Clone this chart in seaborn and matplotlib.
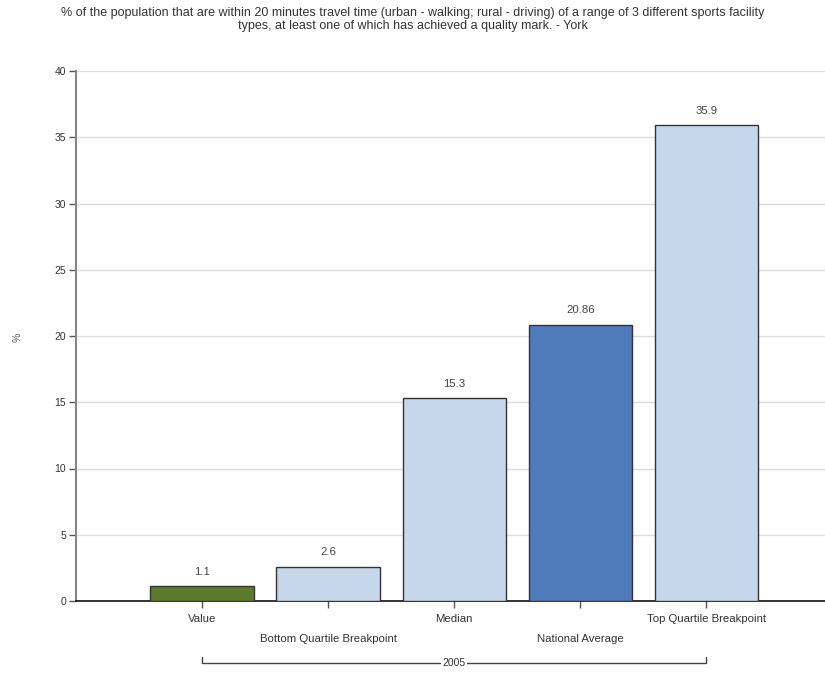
import matplotlib
matplotlib.use("Agg")
import matplotlib.pyplot as plt
import matplotlib.transforms as mtransforms
import seaborn as sns
import pandas as pd

categories = ["Value", "Bottom Quartile Breakpoint", "Median", "National Average", "Top Quartile Breakpoint"]
values = [1.1, 2.6, 15.3, 20.86, 35.9]
value_labels = ["1.1", "2.6", "15.3", "20.86", "35.9"]
bar_colors = ["#5b7b2b", "#c7d7eb", "#c7d7eb", "#4f7bba", "#c7d7eb"]
yticks = [0, 5, 10, 15, 20, 25, 30, 35, 40]
group_label = "2005"
title = ("% of the population that are within 20 minutes travel time (urban - walking; rural - driving) of a range of 3 different sports facility\n"
         "types, at least one of which has achieved a quality mark. - York")

sns.set_theme(style="white")
plt.rcParams['font.family'] = ['Liberation Sans', 'DejaVu Sans']

df = pd.DataFrame({"cat": categories, "val": values})

fig = plt.figure(figsize=(8.25, 6.73), dpi=100)
ax = fig.add_axes([76/825, 1-601/673, 1-76/825, (601-71)/673])

sns.barplot(data=df, x="cat", y="val", hue="cat", palette=bar_colors, legend=False,
            saturation=1, width=0.82, edgecolor="#333333", linewidth=1.0, ax=ax, zorder=3)

ax.set_xlim(-1.0, 4.94)
ax.set_ylim(0, 40)
ax.set_yticks(yticks)
ax.set_yticklabels([str(t) for t in yticks], fontsize=7.5, color="#333333")
ax.yaxis.grid(True, color="#dddddd", linewidth=1.0, zorder=0)
ax.xaxis.grid(False)

ticklabels = [c if i % 2 == 0 else "\n\n" + c for i, c in enumerate(categories)]
ax.set_xticks(range(len(categories)))
ax.set_xticklabels(ticklabels, fontsize=8.2, color="#333333", linespacing=1.0)
ax.tick_params(axis="x", bottom=True, length=5, width=1, color="#555555", pad=4)
ax.tick_params(axis="y", left=True, length=5, width=1, color="#555555", pad=2)
ax.set_xlabel("")
ax.set_ylabel("")

for s in ["top", "right"]:
    ax.spines[s].set_visible(False)
ax.spines["left"].set_color("#888888")
ax.spines["left"].set_linewidth(1.5)
ax.spines["bottom"].set_color("#111111")
ax.spines["bottom"].set_linewidth(1.2)

for i, (v, lab) in enumerate(zip(values, value_labels)):
    ax.annotate(lab, (i, v), xytext=(0, 7), textcoords="offset points",
                ha="center", va="bottom", fontsize=8.2, color="#444444")

# group bracket
trans = mtransforms.blended_transform_factory(ax.transData, ax.transAxes)
yb = -(663-601)/530
yt = -(657-601)/530
ax.plot([0, 0, 4, 4], [yt, yb, yb, yt], transform=trans, color="#444444",
        linewidth=1.0, clip_on=False)
ax.text(2, yb, group_label, transform=trans, ha="center", va="center",
        fontsize=7.5, color="#333333",
        bbox=dict(facecolor="white", edgecolor="none", pad=1.0))

fig.text(0.5, 1-7/673, title, ha="center", va="top", fontsize=9.0, color="#333333",
         linespacing=1.1)
fig.text(18/825, 1-337/673, "%", rotation=90, ha="center", va="center",
         fontsize=7.5, color="#555555")

fig.savefig("out.png", dpi=100)
